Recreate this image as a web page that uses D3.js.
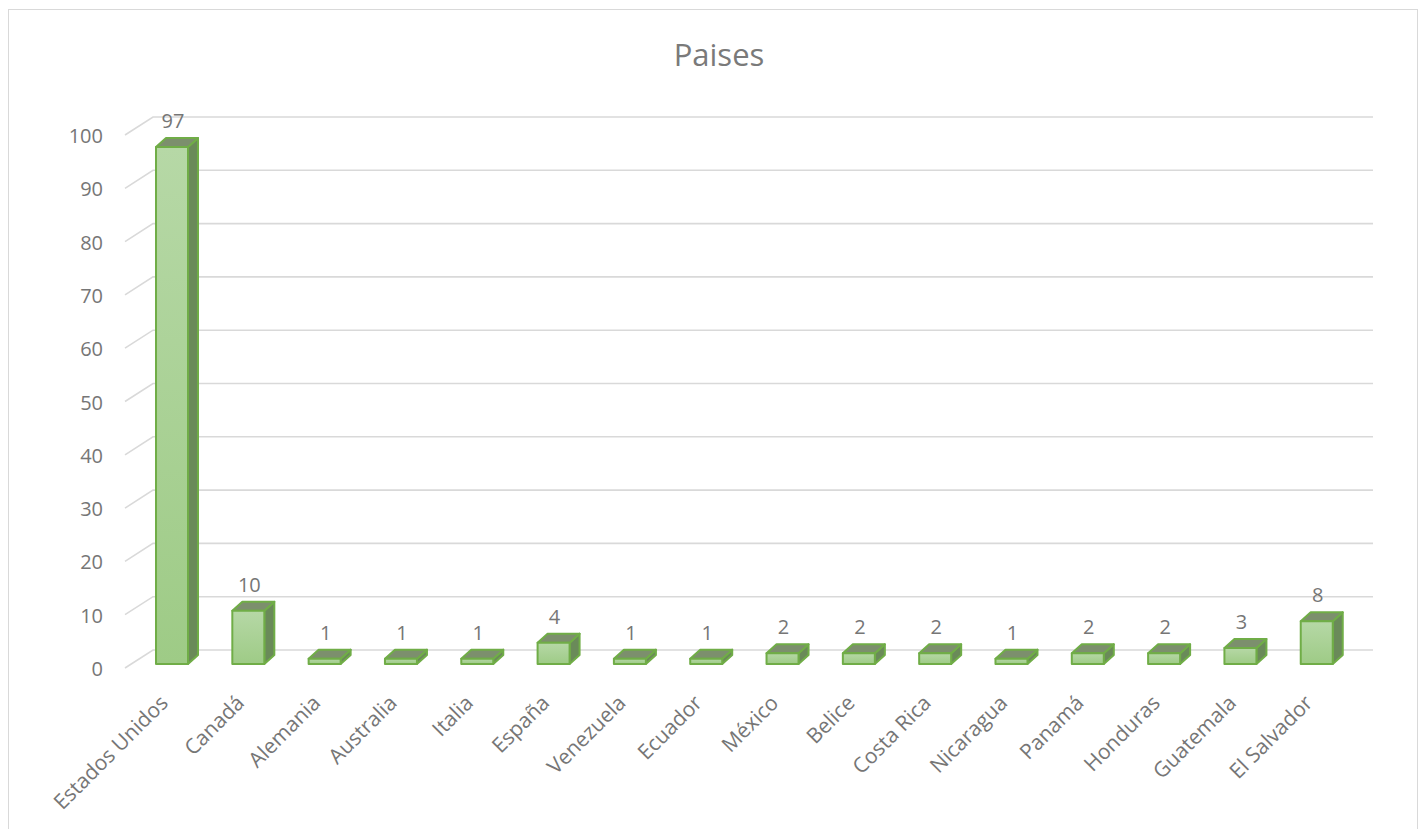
<!DOCTYPE html>
<html>
<head>
<meta charset="utf-8">
<script src="https://cdn.jsdelivr.net/npm/d3@7"></script>
<style>
  html, body { margin: 0; padding: 0; background: #fff; }
  svg { display: block; font-family: "Open Sans", "Noto Sans", sans-serif; }
</style>
</head>
<body>
<svg id="chart" width="1421" height="829"></svg>
<script>
const title = "Paises";
const categories = ["Estados Unidos", "Canadá", "Alemania", "Australia", "Italia", "España",
  "Venezuela", "Ecuador", "México", "Belice", "Costa Rica", "Nicaragua", "Panamá",
  "Honduras", "Guatemala", "El Salvador"];
const values = [97, 10, 1, 1, 1, 4, 1, 1, 2, 2, 2, 1, 2, 2, 3, 8];
const tickValues = [0, 10, 20, 30, 40, 50, 60, 70, 80, 90, 100];

const svg = d3.select("#chart");
const textColor = "#767676";
const gridColor = "#d9d9d9";

// chart border
svg.append("rect").attr("x", 8.5).attr("y", 9.5).attr("width", 1409).attr("height", 830)
  .attr("fill", "none").attr("stroke", gridColor).attr("stroke-width", 1);

// title
svg.append("text").attr("x", 719).attr("y", 66).attr("text-anchor", "middle")
  .attr("font-size", 31).attr("fill", "#7a7a7a").text(title);

const x = d3.scaleBand().domain(categories).range([133.85, 1354.9]).padding(0);
const y = d3.scaleLinear().domain([0, 100]).range([664, 131]);

// 3D geometry offsets
const wallFrontX = 125, wallBackX = 153, wallFrontDy = 4, wallBackDy = -14, gridRight = 1373;
const depthX = 10, depthY = -9, barW = 32;

// gridlines (side wall diagonal + back wall horizontal)
const grid = svg.append("g");
tickValues.forEach(v => {
  grid.append("path")
    .attr("d", `M${wallFrontX},${y(v) + wallFrontDy}L${wallBackX},${y(v) + wallBackDy}L${gridRight},${y(v) + wallBackDy}`)
    .attr("fill", "none").attr("stroke", gridColor).attr("stroke-width", 1.6);
});

// y axis tick labels
svg.append("g").selectAll("text").data(tickValues).join("text")
  .attr("x", 103).attr("y", d => y(d) + 12).attr("text-anchor", "end")
  .attr("font-size", 20).attr("fill", textColor).text(d => d);

// gradient for front face
const defs = svg.append("defs");
const grad = defs.append("linearGradient").attr("id", "frontGrad")
  .attr("x1", 0).attr("y1", 0).attr("x2", 0).attr("y2", 1);
grad.append("stop").attr("offset", "0%").attr("stop-color", "#b6d8a6");
grad.append("stop").attr("offset", "100%").attr("stop-color", "#9ecb86");

// bars
const bars = svg.append("g");
categories.forEach((c, i) => {
  const v = values[i];
  const cx = x(c) + x.bandwidth() / 2;
  const x0 = cx - barW / 2, x1 = cx + barW / 2;
  const yt = y(v), yb = y(0);
  const g = bars.append("g").attr("stroke", "#70ad47").attr("stroke-width", 2).attr("stroke-linejoin", "round");
  // side face
  g.append("path")
    .attr("d", `M${x1},${yt}L${x1 + depthX},${yt + depthY}L${x1 + depthX},${yb + depthY}L${x1},${yb}Z`)
    .attr("fill", "#6a8a59");
  // top face
  g.append("path")
    .attr("d", `M${x0},${yt}L${x0 + depthX},${yt + depthY}L${x1 + depthX},${yt + depthY}L${x1},${yt}Z`)
    .attr("fill", "#7c8f6d");
  // front face
  g.append("rect").attr("x", x0).attr("y", yt).attr("width", barW).attr("height", yb - yt)
    .attr("fill", "url(#frontGrad)");
  // data label
  svg.append("text").attr("x", cx + 1).attr("y", yt - 19).attr("text-anchor", "middle")
    .attr("font-size", 20).attr("fill", textColor).text(v);
});

// category labels
svg.append("g").selectAll("text").data(categories).join("text")
  .attr("transform", d => `translate(${x(d) + x.bandwidth() / 2 - 8},${699}) rotate(-45)`)
  .attr("text-anchor", "end").attr("dy", "0.35em")
  .attr("font-size", 21).attr("fill", textColor).text(d => d);
</script>
</body>
</html>
